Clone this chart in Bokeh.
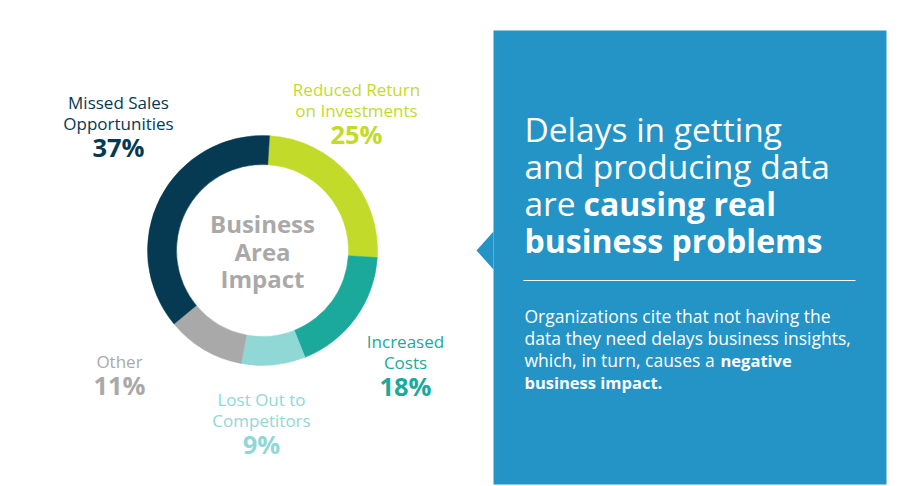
import math
from bokeh.plotting import figure
from bokeh.models import Range1d, ColumnDataSource
from bokeh.core.properties import value
from bokeh.embed import file_html
from bokeh.resources import INLINE

W, H = 916, 486

# ---- data ----
categories = ["Reduced Return on Investments", "Increased Costs",
              "Lost Out to Competitors", "Other", "Missed Sales Opportunities"]
shares = [25, 18, 9, 11, 37]
label_lines = [["Reduced Return", "on Investments"], ["Increased", "Costs"],
               ["Lost Out to", "Competitors"], ["Other"], ["Missed Sales", "Opportunities"]]
colors = ["#c2db2a", "#1ba99b", "#90d8d5", "#a9a9a9", "#053a52"]

center_title = ["Business", "Area", "Impact"]
headline_regular = ["Delays in getting", "and producing data", "are "]
headline_bold = ["causing real", "business problems"]
body_regular = ["Organizations cite that not having the",
                "data they need delays business insights,",
                "which, in turn, causes a "]
body_bold = ["negative", "business impact."]

FONT = "Open Sans"
PANEL = "#2493c6"
SHIFT = 0.36  # baseline compensation (fraction of font size)


def Y(y):
    return H - y


p = figure(width=W, height=H, output_backend="svg", toolbar_location=None,
           x_range=Range1d(0, W), y_range=Range1d(0, H), min_border=0,
           background_fill_color="white", border_fill_color="white")
p.axis.visible = False
p.grid.visible = False
p.outline_line_color = None


def txt(x, y, t, size, color, bold=False, align="left"):
    p.text(x=[x], y=[Y(y - SHIFT * size)], text=[t], text_font=value(FONT),
           text_font_style="bold" if bold else "normal",
           text_font_size=f"{size}px", text_color=color, text_align=align,
           text_baseline="alphabetic")


# ---- donut ----
cx, cy = 262, 250
r_out, r_in = 115, 86
offset = math.radians(3.5)
start0 = math.pi / 2 - offset
total = sum(shares)
cum = 0
starts, ends = [], []
for s in shares:
    a0 = start0 - 2 * math.pi * cum / total
    cum += s
    a1 = start0 - 2 * math.pi * cum / total
    starts.append(a1)
    ends.append(a0)
src = ColumnDataSource(dict(x=[cx] * len(shares), y=[Y(cy)] * len(shares),
                            start=starts, end=ends, color=colors, cat=categories))
p.annular_wedge(x="x", y="y", inner_radius=r_in, outer_radius=r_out,
                start_angle="start", end_angle="end", direction="anticlock",
                fill_color="color", line_color="color", line_width=0.5, source=src)

# centre title
for t, by in zip(center_title, [232, 260, 287]):
    txt(cx, by, t, 24, "#a9a9a9", bold=True, align="center")

# category labels: (center x, first baseline)
label_pos = [(356, 95), (405, 347), (261, 405), (119, 367), (118, 108)]
for lines, s, col, (lx, ly) in zip(label_lines, shares, colors, label_pos):
    by = ly
    for ln in lines:
        txt(lx, by, ln, 17, col, align="center")
        by += 21.5
    by += 5
    txt(lx, by, f"{s}%", 25.5, col, bold=True, align="center")

# ---- right panel ----
p.quad(left=[493], right=[886], top=[Y(30)], bottom=[Y(484)],
       fill_color=PANEL, line_color=None)
p.patch(x=[493, 476, 493], y=[Y(231), Y(250), Y(269)], fill_color=PANEL, line_color=None)

hx = 524
hb = [141, 178, 215, 252]
for t, by in zip(headline_regular, hb):
    txt(hx, by, t, 33.5, "white")
txt(583, hb[2], headline_bold[0], 32, "white", bold=True)
txt(hx, hb[3], headline_bold[1], 32, "white", bold=True)

p.segment(x0=[523], x1=[855], y0=[Y(280)], y1=[Y(280)], line_color="white", line_width=1)

bb = [322, 344, 366, 388]
for t, by in zip(body_regular, bb):
    txt(hx, by, t, 17.5, "white")
txt(720, bb[2], body_bold[0], 16.5, "white", bold=True)
txt(hx, bb[3], body_bold[1], 16.5, "white", bold=True)

open("out.html", "w").write(file_html(p, INLINE))
